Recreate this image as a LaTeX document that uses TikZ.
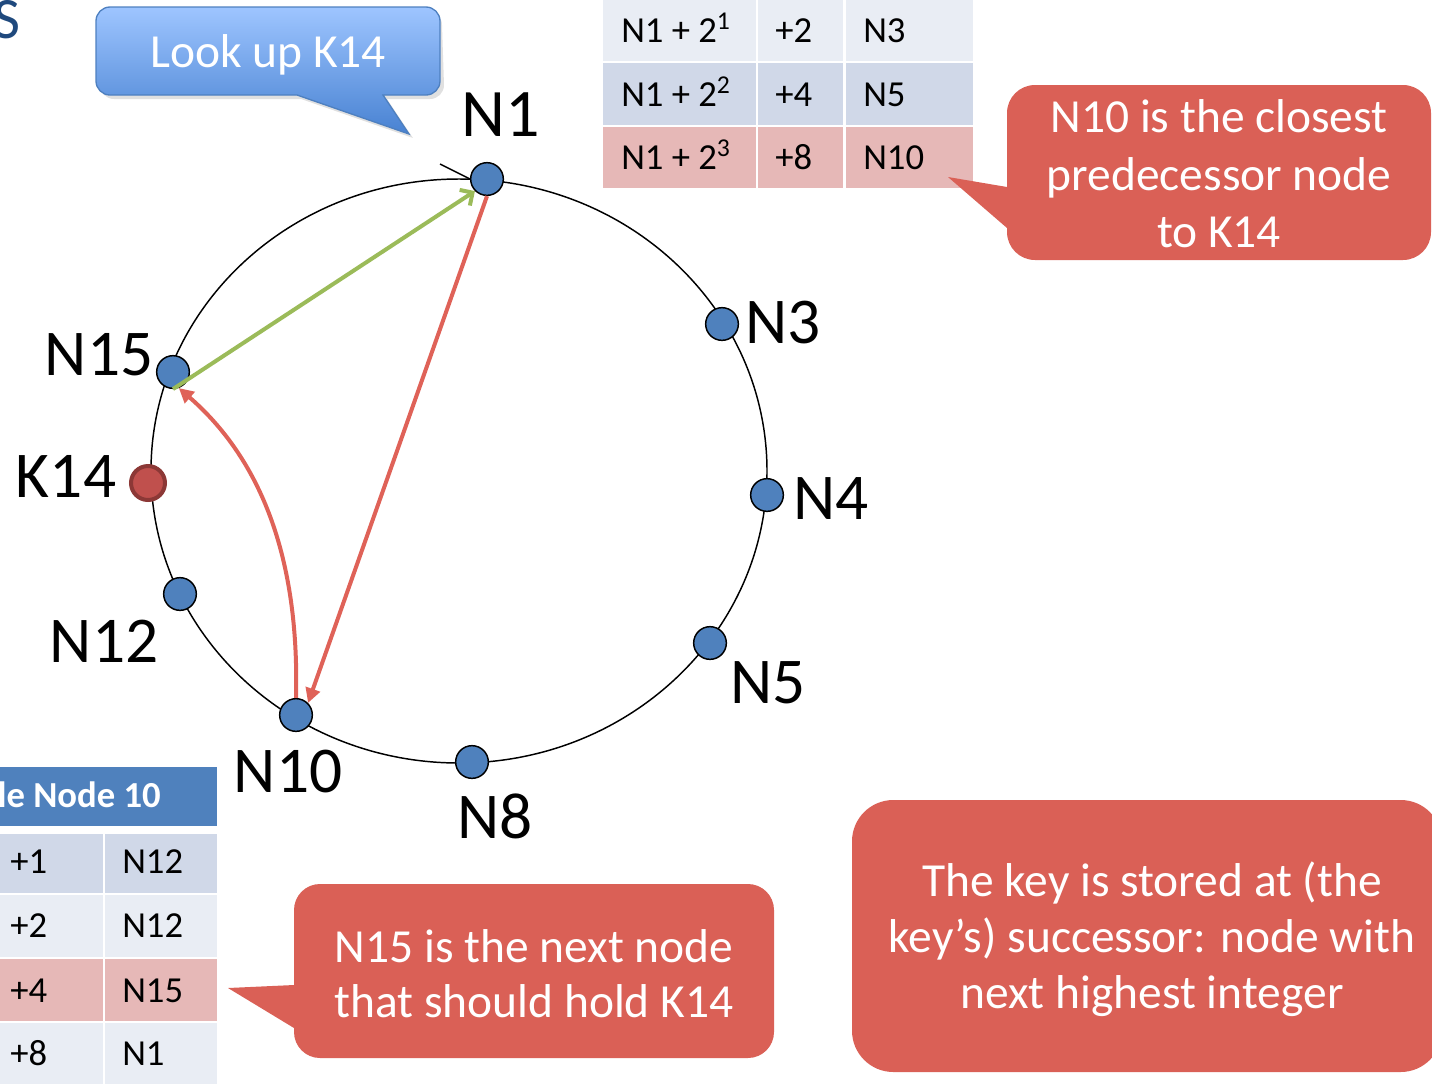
\documentclass[tikz,border=0pt]{standalone}
\usepackage{fontspec}
\setmainfont{Carlito}
\usetikzlibrary{arrows.meta}

\definecolor{nodeblue}{RGB}{79,129,189}
\definecolor{keyred}{RGB}{192,80,77}
\definecolor{keyedge}{RGB}{140,56,54}
\definecolor{callred}{RGB}{218,96,86}
\definecolor{arrowred}{RGB}{223,98,88}
\definecolor{arrowgreen}{RGB}{155,187,89}
\definecolor{tlight}{RGB}{233,237,244}
\definecolor{tmid}{RGB}{208,216,232}
\definecolor{tpink}{RGB}{230,184,183}
\definecolor{hdrblue}{RGB}{79,129,189}
\definecolor{titleblue}{RGB}{31,73,125}
\definecolor{cbtop}{RGB}{158,197,255}
\definecolor{cbbot}{RGB}{72,130,210}
\definecolor{cbedge}{RGB}{78,128,192}

\begin{document}
\begin{tikzpicture}[x=0.75pt,y=-0.75pt,
  dot/.style={circle, fill=nodeblue, draw=black, line width=1.1pt, minimum size=24.5pt, inner sep=0pt},
  keydot/.style={circle, fill=keyred, draw=keyedge, line width=3pt, minimum size=25.5pt, inner sep=0pt},
  lbl/.style={font=\fontsize{49pt}{58pt}\selectfont, inner sep=0pt, anchor=base},
  cell/.style={font=\fontsize{27.5pt}{33pt}\selectfont, inner sep=0pt, anchor=base west},
  calltext/.style={font=\fontsize{35.6pt}{42pt}\selectfont, text=white, inner sep=0pt, anchor=base},
  redarrow/.style={draw=arrowred, line width=3pt, -{Triangle[length=11pt,width=11pt]}},
  greenarrow/.style={draw=arrowgreen, line width=3pt, -{Straight Barb[length=7pt,width=14pt]}}
]
\useasboundingbox (0,0) rectangle (1432,1083);
\clip (0,0) rectangle (1432,1083);

% title fragment
\node[font=\fontsize{44pt}{52pt}\selectfont, text=titleblue, inner sep=0pt, anchor=base east] (title) at (21,38) {S};

% finger table of N1
\fill[tlight] (603,-5) rectangle (756,61);
\fill[tlight] (758,-5) rectangle (843,61);
\fill[tlight] (846,-5) rectangle (973,61);
\fill[tmid] (603,63) rectangle (756,125);
\fill[tmid] (758,63) rectangle (843,125);
\fill[tmid] (846,63) rectangle (973,125);
\fill[tpink] (603,127) rectangle (756,188);
\fill[tpink] (758,127) rectangle (843,188);
\fill[tpink] (846,127) rectangle (973,188);
\node[cell] (a11) at (621,42) {N1 + 2\textsuperscript{1}};
\node[cell] (a12) at (775,42) {+2};
\node[cell] (a13) at (863,42) {N3};
\node[cell] (a21) at (621,106) {N1 + 2\textsuperscript{2}};
\node[cell] (a22) at (775,106) {+4};
\node[cell] (a23) at (863,106) {N5};
\node[cell] (a31) at (621,169) {N1 + 2\textsuperscript{3}};
\node[cell] (a32) at (775,169) {+8};
\node[cell] (a33) at (863,169) {N10};

% finger table of N10
\fill[hdrblue] (-5,767) rectangle (217,826);
\node[font=\fontsize{27.5pt}{33pt}\selectfont\bfseries, text=white, inner sep=0pt, anchor=base east] (bhdr) at (161,807) {le Node 10};
\fill[tmid] (-5,834) rectangle (103,893);
\fill[tmid] (105,834) rectangle (217,893);
\fill[tlight] (-5,895) rectangle (103,957);
\fill[tlight] (105,895) rectangle (217,957);
\fill[tpink] (-5,959) rectangle (103,1021);
\fill[tpink] (105,959) rectangle (217,1021);
\fill[tlight] (-5,1023) rectangle (103,1090);
\fill[tlight] (105,1023) rectangle (217,1090);
\node[cell] (b11) at (10,873) {+1};
\node[cell] (b12) at (122,873) {N12};
\node[cell] (b21) at (10,937) {+2};
\node[cell] (b22) at (122,937) {N12};
\node[cell] (b31) at (10,1002) {+4};
\node[cell] (b32) at (122,1002) {N15};
\node[cell] (b41) at (10,1065) {+8};
\node[cell] (b42) at (122,1065) {N1};

% blue callout with a soft shadow
\fill[black, opacity=0.12] (112,11) -- (428,11) arc[start angle=270,end angle=360,radius=14] -- (444,85) arc[start angle=0,end angle=90,radius=14] -- (387,99) -- (413,138) -- (301,99) -- (114,99) arc[start angle=90,end angle=180,radius=14] -- (100,25) arc[start angle=180,end angle=270,radius=14] -- cycle;
\shade[top color=cbtop, bottom color=cbbot, draw=cbedge, line width=1pt]
  (110,7) -- (426,7) arc[start angle=270,end angle=360,radius=14] -- (440,81) arc[start angle=0,end angle=90,radius=14]
  -- (383,95) -- (409,134) -- (297,95) -- (110,95) arc[start angle=90,end angle=180,radius=14]
  -- (96,21) arc[start angle=180,end angle=270,radius=14] -- cycle;
\node[calltext] (lookup) at (268,67) {Look up K14};

% red callout, top right
\fill[callred] (1035,85) -- (1403,85) arc[start angle=270,end angle=360,radius=28] -- (1431,232)
  arc[start angle=0,end angle=90,radius=28] -- (1035,260) arc[start angle=90,end angle=180,radius=28]
  -- (1007,228) -- (948,177) -- (1007,187) -- (1007,113) arc[start angle=180,end angle=270,radius=28] -- cycle;
\node[calltext] (c1a) at (1219,132) {N10 is the closest};
\node[calltext] (c1b) at (1219,190) {predecessor node};
\node[calltext] (c1c) at (1219,247) {to K14};

% red callout, bottom middle
\fill[callred] (320,884) -- (748,884) arc[start angle=270,end angle=360,radius=26] -- (774,1032)
  arc[start angle=0,end angle=90,radius=26] -- (320,1058) arc[start angle=90,end angle=180,radius=26]
  -- (294,1028) -- (228,988) -- (294,985) -- (294,910) arc[start angle=180,end angle=270,radius=26] -- cycle;
\node[calltext] (c2a) at (534,962) {N15 is the next node};
\node[calltext] (c2b) at (534,1017) {that should hold K14};

% red callout, bottom right
\fill[callred, rounded corners=31pt] (852,800) rectangle (1442,1072);
\node[calltext] (c3a) at (1152,896) {The key is stored at (the};
\node[calltext] (c3b) at (1152,952) {key’s) successor: node with};
\node[calltext] (c3c) at (1152,1008) {next highest integer};

% the ring
\draw[line width=1.1pt] (459,471) ellipse [x radius=308, y radius=292];
\coordinate (barb) at (440,164);

% ring members
\node[dot] (n1) at (487,179) {};
\node[dot] (n3) at (722,324) {};
\node[dot] (n4) at (767,495) {};
\node[dot] (n5) at (710,643) {};
\node[dot] (n8) at (472,762) {};
\node[dot] (n10) at (296,715) {};
\node[dot] (n12) at (180,594) {};
\node[dot] (n15) at (173,372) {};
\node[keydot] (k14) at (148,483) {};
\draw[line width=1.1pt] (barb) -- (n1.west);

% labels
\node[lbl, font=\fontsize{51pt}{60pt}\selectfont] (ln1) at (501,136) {N1};
\node[lbl] (ln3) at (783,343) {N3};
\node[lbl] (ln4) at (831,519) {N4};
\node[lbl] (ln5) at (768,703) {N5};
\node[lbl] (ln8) at (495,838) {N8};
\node[lbl] (ln10) at (288,792) {N10};
\node[lbl] (ln12) at (104,662) {N12};
\node[lbl] (ln15) at (99,375) {N15};
\node[lbl] (lk14) at (66,497) {K14};

% lookup hops
\draw[greenarrow] (n15.south) -- (n1.south west);
\draw[redarrow] (n1.south) -- (n10.north east);
\draw[redarrow] (n10.north) .. controls (300,540) and (250,450) .. (n15.-70);
\end{tikzpicture}
\end{document}
